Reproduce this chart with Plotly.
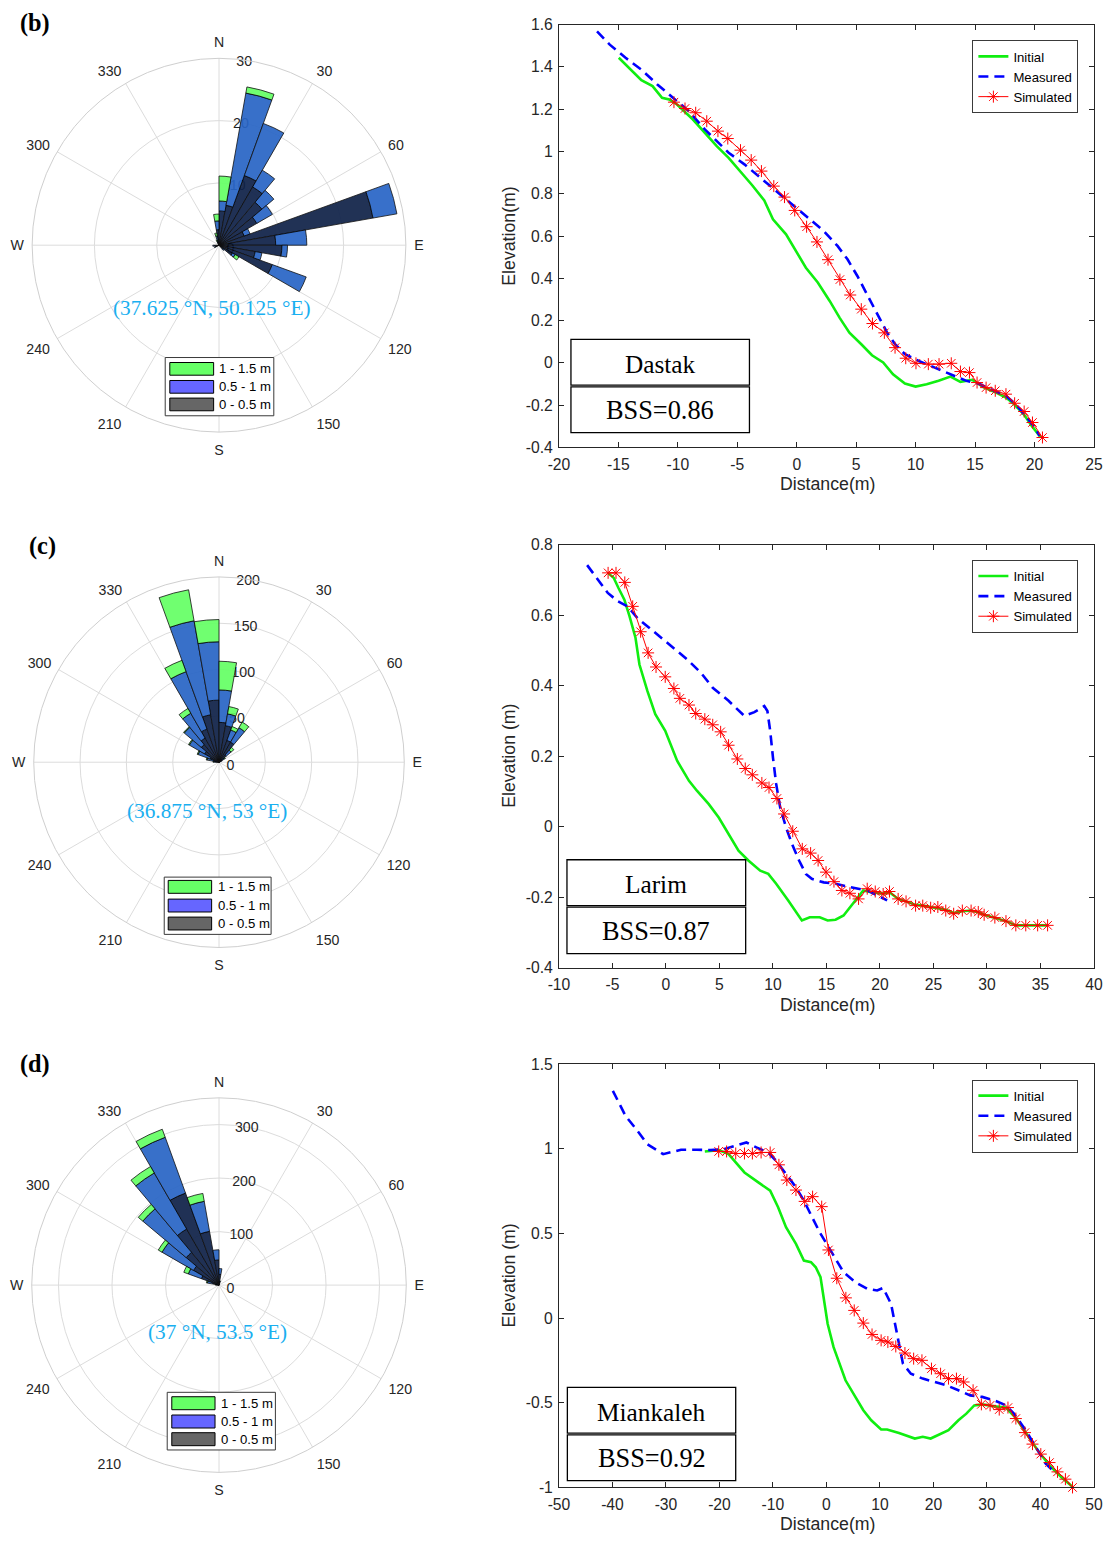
import plotly.graph_objects as go

W, H = 1113, 1544
# The page is shown with the browser's default 8 px body margin and the whole page
# is fitted back into W x H, so layout positions are pre-scaled to land where wanted.
PAGE_PAD = 8
SX = (W + 2 * PAGE_PAD) / W
SY = (H + 2 * PAGE_PAD) / H
FS = (SX + SY) / 2
SANS = "Liberation Sans, Arial, sans-serif"
SERIF = "Liberation Serif, Times New Roman, serif"
INK = "#262626"


def fx(px):
    return (px * SX - PAGE_PAD) / W


def fy(py):
    return 1 - (py * SY - PAGE_PAD) / H


def fs(size):
    return round(size * FS, 2)


# ---------------- wave roses: direction bins (deg, clockwise from N) ----------------
bins_labels = ["1 - 1.5 m", "0.5 - 1 m", "0 - 0.5 m"]

b_dir = [245, 265, 335, 345, 355, 5, 15, 25, 35, 45, 55, 65, 75, 85, 95, 105, 115, 125, 135]
b_low = [0.5, 0.7, 0.4, 0.8, 2.5, 5.5, 6.5, 11.9, 10.8, 9.0, 7.0, 4.3, 25.1, 9.1, 10.1, 5.9, 9.1, 2.5, 0.8]
b_mid = [0.3, 0.3, 0.3, 0.7, 1.4, 1.6, 18.3, 8.9, 3.1, 2.5, 2.9, 1.0, 3.9, 5.0, 0.9, 1.1, 5.8, 0.5, 0.3]
b_high = [0, 0, 0.2, 0.5, 1.1, 4.0, 1.0, 0, 0, 0, 0, 0, 0, 0, 0, 0, 0, 0.7, 0]

c_dir = [275, 285, 295, 305, 315, 325, 335, 345, 355, 5, 15, 25, 35, 45, 55, 65]
c_low = [3, 6, 10, 18, 25, 30, 38, 52, 67, 43, 40, 25, 25, 10, 4, 2]
c_mid = [3, 7, 14, 19, 24, 31, 66, 103, 63, 35, 13, 12, 18, 7, 3, 1]
c_high = [0.5, 1, 1, 1, 1, 6, 13, 34, 24, 31, 8, 4, 7, 4, 1, 0]

d_dir = [275, 285, 295, 305, 315, 325, 335, 345, 355, 5, 15]
d_low = [3, 12, 35, 55, 80, 121, 183, 102, 47, 20, 5]
d_mid = [3, 10, 26, 68, 106, 121, 111, 57, 19, 11, 3]
d_high = [1, 2, 9, 8, 11, 14, 16, 15, 0, 0, 0]

# ---------------- cross-shore profiles ----------------
# Dastak
b_init_x = [-14.97, -14.07, -13.07, -12.13, -11.33, -10.73, -10.07, -8.73, -7.73, -6.73,
            -5.73, -4.73, -3.73, -2.73, -2.0, -0.9, -0.07, 0.77, 1.77, 2.77,
            3.6, 4.43, 5.43, 6.33, 7.27, 8.1, 9.1, 10.0, 10.93, 11.93,
            12.93, 13.77, 14.77, 15.77, 16.77, 17.6, 18.27, 19.1, 19.77, 20.53]
b_init_y = [1.443, 1.395, 1.337, 1.309, 1.254, 1.246, 1.222, 1.151, 1.088, 1.025,
            0.970, 0.907, 0.839, 0.768, 0.679, 0.608, 0.529, 0.450, 0.380, 0.293,
            0.214, 0.143, 0.088, 0.036, 0.002, -0.054, -0.098, -0.112, -0.101, -0.085,
            -0.065, -0.090, -0.080, -0.117, -0.140, -0.164, -0.195, -0.243, -0.298, -0.353]
b_meas_x = [-16.8, -15.73, -14.4, -13.07, -11.73, -10.4, -9.07, -7.73, -6.57, -5.73,
            -4.4, -3.07, -1.73, -0.4, 0.93, 2.27, 3.43, 4.27, 5.1, 5.93,
            6.77, 7.6, 8.27, 9.1, 10.27, 11.27, 12.27, 13.27, 14.27, 15.27,
            16.27, 17.6, 18.43, 19.27, 19.93, 20.43]
b_meas_y = [1.568, 1.505, 1.443, 1.387, 1.317, 1.254, 1.19, 1.104, 1.041, 0.994,
            0.939, 0.876, 0.813, 0.75, 0.687, 0.624, 0.553, 0.49, 0.411, 0.324,
            0.23, 0.143, 0.088, 0.041, 0.009, -0.014, -0.038, -0.061, -0.085, -0.098,
            -0.124, -0.156, -0.195, -0.25, -0.298, -0.345]
b_sim_x = [-10.33, -9.4, -8.5, -7.57, -6.63, -5.8, -4.73, -3.83, -2.97, -1.93,
           -1.03, -0.17, 0.83, 1.7, 2.63, 3.63, 4.5, 5.43, 6.37, 7.37,
           8.27, 9.17, 10.03, 11.07, 11.97, 13.0, 13.77, 14.53, 15.17, 15.93,
           16.7, 17.6, 18.33, 19.13, 19.83, 20.67]
b_sim_y = [1.233, 1.203, 1.183, 1.143, 1.096, 1.061, 1.006, 0.959, 0.907, 0.836,
           0.784, 0.721, 0.644, 0.572, 0.488, 0.394, 0.321, 0.254, 0.186, 0.142,
           0.072, 0.022, -0.002, -0.006, -0.006, -0.002, -0.041, -0.046, -0.093, -0.117,
           -0.132, -0.148, -0.191, -0.230, -0.282, -0.353]

# Larim
c_init_x = [-5.44, -4.89, -4.44, -3.89, -3.41, -2.85, -2.48, -1.74, -1.0, -0.07,
            1.04, 2.15, 2.89, 4.0, 4.93, 5.85, 6.78, 7.7, 8.81, 9.56,
            10.3, 11.41, 12.7, 13.44, 14.37, 15.11, 15.85, 16.6, 17.33, 18.44,
            19.19, 20.3, 20.89, 21.7, 22.44, 23.33, 24.0, 24.74, 25.41, 26.15,
            26.89, 27.7, 28.52, 29.19, 29.74, 30.74, 31.78, 32.7, 33.63, 34.74, 35.67]
c_init_y = [0.72, 0.706, 0.677, 0.644, 0.597, 0.536, 0.46, 0.385, 0.319, 0.272,
            0.187, 0.13, 0.102, 0.064, 0.026, -0.021, -0.068, -0.096, -0.125, -0.134,
            -0.162, -0.209, -0.266, -0.257, -0.257, -0.266, -0.264, -0.252, -0.224, -0.181,
            -0.186, -0.19, -0.186, -0.205, -0.212, -0.222, -0.224, -0.228, -0.23, -0.236,
            -0.245, -0.24, -0.238, -0.243, -0.25, -0.258, -0.268, -0.28, -0.28, -0.28, -0.28]
c_meas_x = [-7.37, -6.37, -5.44, -4.52, -3.59, -2.67, -1.56, -0.44, 0.67, 1.96,
            3.26, 4.37, 5.85, 7.33, 8.26, 9.19, 9.48, 9.74, 10.0, 10.3,
            10.67, 11.22, 11.78, 12.44, 13.07, 13.63, 14.74, 15.85, 16.96, 17.89,
            18.81, 19.74, 20.67]
c_meas_y = [0.742, 0.701, 0.663, 0.64, 0.625, 0.592, 0.564, 0.536, 0.508, 0.475,
            0.437, 0.394, 0.357, 0.314, 0.325, 0.342, 0.328, 0.272, 0.196, 0.121,
            0.055, -0.002, -0.049, -0.096, -0.134, -0.148, -0.158, -0.162, -0.17, -0.176,
            -0.181, -0.195, -0.209]
c_sim_x = [-5.41, -4.67, -3.85, -3.11, -2.37, -1.67, -0.93, -0.07, 0.74, 1.30,
           2.15, 2.78, 3.63, 4.37, 5.11, 5.85, 6.67, 7.41, 8.07, 8.96,
           9.63, 10.37, 11.04, 11.85, 12.74, 13.52, 14.22, 14.96, 15.70, 16.44,
           17.19, 18.0, 18.81, 19.56, 20.30, 20.89, 21.70, 22.44, 23.33, 24.0,
           24.74, 25.41, 26.15, 26.89, 27.70, 28.52, 29.19, 29.74, 30.74, 31.78,
           32.70, 33.63, 34.74, 35.67]
c_sim_y = [0.72, 0.72, 0.693, 0.625, 0.553, 0.493, 0.453, 0.425, 0.392, 0.364,
           0.345, 0.321, 0.305, 0.289, 0.269, 0.231, 0.192, 0.165, 0.147, 0.124,
           0.111, 0.080, 0.036, -0.013, -0.063, -0.075, -0.096, -0.129, -0.156, -0.181,
           -0.189, -0.205, -0.176, -0.184, -0.191, -0.184, -0.205, -0.212, -0.224, -0.224,
           -0.23, -0.228, -0.238, -0.247, -0.238, -0.238, -0.242, -0.25, -0.258, -0.268,
           -0.28, -0.28, -0.28, -0.28]

# Miankaleh
d_init_x = [-22.74, -20.15, -18.30, -15.33, -12.74, -10.52, -9.04, -7.56, -5.70, -4.22,
            -2.89, -2.0, -1.11, -0.52, 0.22, 1.33, 2.44, 3.56, 5.04, 6.89,
            8.37, 10.22, 11.33, 13.56, 16.52, 18.0, 19.48, 20.96, 22.81, 24.67,
            26.15, 27.63, 29.11, 31.33, 33.56, 35.41, 37.26, 39.48, 41.70, 43.93, 46.0]
d_init_y = [0.985, 0.993, 0.969, 0.861, 0.802, 0.753, 0.655, 0.537, 0.439, 0.340,
            0.331, 0.301, 0.242, 0.124, -0.033, -0.171, -0.269, -0.367, -0.446, -0.544,
            -0.603, -0.658, -0.658, -0.678, -0.711, -0.701, -0.711, -0.691, -0.662, -0.603,
            -0.564, -0.515, -0.509, -0.52, -0.528, -0.59, -0.68, -0.78, -0.87, -0.94, -0.996]
d_meas_x = [-39.93, -39.04, -37.56, -35.33, -33.48, -30.52, -29.41, -27.19, -24.22, -21.63,
            -19.04, -16.81, -14.96, -13.11, -10.89, -9.41, -7.56, -5.70, -4.22, -2.74,
            -1.26, 0.22, 1.70, 3.19, 5.41, 7.63, 9.48, 10.59, 12.07, 12.81,
            13.56, 14.30, 15.78, 18.0, 20.22, 22.44, 24.67, 26.89, 29.11, 31.33,
            33.56, 35.04, 37.26, 39.11, 40.96, 42.81]
d_meas_y = [1.343, 1.284, 1.195, 1.107, 1.028, 0.969, 0.979, 0.995, 0.995, 0.993,
            0.999, 1.018, 1.038, 1.009, 0.979, 0.930, 0.851, 0.773, 0.694, 0.596,
            0.507, 0.429, 0.350, 0.272, 0.213, 0.173, 0.164, 0.179, 0.085, -0.033,
            -0.151, -0.269, -0.328, -0.357, -0.377, -0.397, -0.426, -0.456, -0.465, -0.485,
            -0.515, -0.564, -0.662, -0.760, -0.858, -0.917]
d_sim_x = [-20.15, -18.67, -16.96, -15.33, -13.85, -12.22, -10.52, -8.89, -7.41, -5.70,
           -4.07, -2.59, -0.89, 0.37, 1.93, 3.63, 5.19, 6.89, 8.52, 10.22,
           11.48, 12.96, 14.67, 16.30, 17.85, 19.63, 21.33, 22.81, 24.30, 25.63,
           27.41, 28.96, 30.59, 32.30, 33.93, 35.41, 37.11, 38.52, 40.07, 41.70,
           43.19, 44.67, 46.0]
d_sim_y = [0.985, 0.985, 0.973, 0.973, 0.973, 0.979, 0.979, 0.906, 0.816, 0.757,
           0.690, 0.718, 0.659, 0.403, 0.236, 0.120, 0.046, -0.029, -0.096, -0.131,
           -0.141, -0.167, -0.206, -0.239, -0.249, -0.298, -0.328, -0.357, -0.357, -0.377,
           -0.426, -0.509, -0.515, -0.540, -0.528, -0.593, -0.676, -0.744, -0.803, -0.853,
           -0.908, -0.951, -1.0]

site_names = ["Dastak", "Larim", "Miankaleh"]
bss_values = [0.86, 0.87, 0.92]
coords_text = ["(37.625 °N, 50.125 °E)", "(36.875 °N, 53 °E)", "(37 °N, 53.5 °E)"]
panel_tags = ["(b)", "(c)", "(d)"]

# ---------------- layout geometry (pixels on the page) ----------------
rose_geo = [  # centre x, centre y, radius
    (216.7, 244.3, 187.6),
    (216.7, 761.7, 186.0),
    (216.7, 1285.0, 188.0),
]
rose_rmax = [30, 200, 350]
rose_ticks = [[0, 10, 20, 30], [0, 50, 100, 150, 200], [0, 100, 200, 300]]
rose_data = [
    (b_dir, b_low, b_mid, b_high),
    (c_dir, c_low, c_mid, c_high),
    (d_dir, d_low, d_mid, d_high),
]
coord_pos = [(209.7, 306.7), (205.0, 810.7), (215.0, 1331.7)]
tag_pos = [(31.7, 21.7), (40.0, 545.0), (31.7, 1063.3)]
rose_leg = [  # box x0,x1,y0,y1, swatch x0,x1, row tops, row height, text x
    (162.7, 271.7, 356.7, 415.0, 167.3, 211.3, [361.7, 379.7, 397.3], 12.7, 215.0),
    (161.7, 269.0, 876.7, 934.0, 165.7, 209.3, [880.0, 898.7, 916.7], 12.9, 213.3),
    (164.7, 273.3, 1392.3, 1450.0, 169.3, 212.7, [1396.7, 1415.0, 1432.7], 13.0, 216.7),
]

plot_left, plot_right = 558.0, 1095.0
plot_tb = [(23.5, 446.7), (544.0, 967.3), (1064.0, 1487.5)]
x_ranges = [[-20, 25], [-10, 40], [-50, 50]]
x_ticks = [list(range(-20, 26, 5)), list(range(-10, 41, 5)), list(range(-50, 51, 10))]
y_ranges = [[-0.4, 1.6], [-0.4, 0.8], [-1, 1.5]]
y_ticks = [[-0.4, -0.2, 0, 0.2, 0.4, 0.6, 0.8, 1.0, 1.2, 1.4, 1.6],
           [-0.4, -0.2, 0, 0.2, 0.4, 0.6, 0.8],
           [-1, -0.5, 0, 0.5, 1, 1.5]]
y_titles = ["Elevation(m)", "Elevation (m)", "Elevation (m)"]
profiles = [
    (b_init_x, b_init_y, b_meas_x, b_meas_y, b_sim_x, b_sim_y),
    (c_init_x, c_init_y, c_meas_x, c_meas_y, c_sim_x, c_sim_y),
    (d_init_x, d_init_y, d_meas_x, d_meas_y, d_sim_x, d_sim_y),
]
box_geo = [  # x0, x1, y0, ymid, y1
    (570.0, 749.2, 338.5, 385.2, 431.8),
    (566.0, 745.4, 859.3, 906.0, 953.3),
    (566.4, 735.4, 1387.3, 1434.0, 1480.7),
]
leg_right = 1079.4
leg_top = [39.3, 559.3, 1079.3]

LOW_C, MID_C, HIGH_C = "#12244A", "#2966C6", "#66FF66"
LEG_COLORS = ["#66FF66", "#6666FF", "#666666"]
GREEN, BLUE, RED = "#10EE10", "#0000FF", "#FF0000"


def fmt(v):
    s = f"{v:g}"
    return "0" if s == "-0" else s


fig = go.Figure()
shapes = []
annotations = []
layout = {}

for i in range(3):
    key = "polar" if i == 0 else f"polar{i + 1}"
    cx, cy, rad = rose_geo[i]
    dirs, low, mid, high = rose_data[i]
    for vals, col in ((low, LOW_C), (mid, MID_C), (high, HIGH_C)):
        fig.add_trace(go.Barpolar(
            r=vals, theta=dirs, width=[10] * len(dirs), subplot=key,
            marker=dict(color=col, line=dict(color="black", width=0.8)),
            opacity=0.93, showlegend=False, hoverinfo="skip"))
    layout[key] = dict(
        domain=dict(x=[fx(cx - rad), fx(cx + rad)], y=[fy(cy + rad), fy(cy - rad)]),
        bgcolor="white", barmode="stack",
        angularaxis=dict(
            direction="clockwise", rotation=90,
            tickvals=list(range(0, 360, 30)),
            ticktext=["N", "30", "60", "E", "120", "150", "S", "210", "240", "W", "300", "330"],
            showgrid=True, gridcolor="#dcdcdc", gridwidth=1,
            showline=True, linecolor="#cfcfcf", linewidth=1,
            ticks="outside", ticklen=5, tickcolor="rgba(0,0,0,0)",
            tickfont=dict(family=SANS, size=fs(14), color=INK)),
        radialaxis=dict(
            range=[0, rose_rmax[i]], tickvals=rose_ticks[i],
            ticktext=[str(t) for t in rose_ticks[i]],
            angle=87, tickangle=87, showline=False, ticks="",
            showgrid=True, gridcolor="#dcdcdc", gridwidth=1,
            layer="below traces",
            tickfont=dict(family=SANS, size=fs(14), color=INK)),
    )

    # coordinates of the wave station
    px_, py_ = coord_pos[i]
    annotations.append(dict(
        x=fx(px_), y=fy(py_), xref="paper", yref="paper", showarrow=False,
        text=coords_text[i], font=dict(family=SERIF, size=fs(21), color="#1AAFF0"),
        xanchor="center", yanchor="middle"))
    tx, ty = tag_pos[i]
    annotations.append(dict(
        x=fx(tx), y=fy(ty), xref="paper", yref="paper", showarrow=False,
        text=f"<b>{panel_tags[i]}</b>", font=dict(family=SERIF, size=fs(24), color="black"),
        xanchor="center", yanchor="middle"))

    # wave-height legend of the rose
    bx0, bx1, by0, by1, sx0, sx1, rows, rh, txt_x = rose_leg[i]
    shapes.append(dict(type="rect", xref="paper", yref="paper",
                       x0=fx(bx0), x1=fx(bx1), y0=fy(by1), y1=fy(by0),
                       line=dict(color="#3a3a3a", width=1), fillcolor="white", layer="above"))
    for lab, col, top in zip(bins_labels, LEG_COLORS, rows):
        shapes.append(dict(type="rect", xref="paper", yref="paper",
                           x0=fx(sx0), x1=fx(sx1), y0=fy(top + rh), y1=fy(top),
                           line=dict(color="black", width=1), fillcolor=col, layer="above"))
        annotations.append(dict(
            x=fx(txt_x), y=fy(top + rh / 2), xref="paper", yref="paper", showarrow=False,
            text=lab, font=dict(family=SANS, size=fs(13), color="black"),
            xanchor="left", yanchor="middle"))

for i in range(3):
    xa = "x" if i == 0 else f"x{i + 1}"
    ya = "y" if i == 0 else f"y{i + 1}"
    lg = "legend" if i == 0 else f"legend{i + 1}"
    ix, iy, mx, my, sx, sy = profiles[i]
    fig.add_trace(go.Scatter(x=ix, y=iy, xaxis=xa, yaxis=ya, mode="lines", name="Initial",
                             line=dict(color=GREEN, width=2.6), legend=lg, hoverinfo="skip"))
    fig.add_trace(go.Scatter(x=mx, y=my, xaxis=xa, yaxis=ya, mode="lines", name="Measured",
                             line=dict(color=BLUE, width=2.6, dash="10px,6px"), legend=lg,
                             hoverinfo="skip"))
    fig.add_trace(go.Scatter(x=sx, y=sy, xaxis=xa, yaxis=ya, mode="lines+markers", name="Simulated",
                             line=dict(color=RED, width=1),
                             marker=dict(symbol="asterisk-open", size=10,
                                         line=dict(color=RED, width=1)),
                             cliponaxis=False, legend=lg, hoverinfo="skip"))

    top, bot = plot_tb[i]
    axis_common = dict(showline=True, mirror="ticks", linecolor=INK, linewidth=1,
                       ticks="inside", ticklen=5, tickcolor=INK, tickwidth=1,
                       showgrid=False, zeroline=False,
                       tickfont=dict(family=SANS, size=fs(15.5), color=INK))
    layout["xaxis" if i == 0 else f"xaxis{i + 1}"] = dict(
        domain=[fx(plot_left), fx(plot_right)], range=x_ranges[i], anchor=ya,
        tickvals=x_ticks[i], ticktext=[fmt(t) for t in x_ticks[i]], ticklabelstandoff=3,
        **axis_common)
    layout["yaxis" if i == 0 else f"yaxis{i + 1}"] = dict(
        domain=[fy(bot), fy(top)], range=y_ranges[i], anchor=xa,
        tickvals=y_ticks[i], ticktext=[fmt(t) for t in y_ticks[i]], ticklabelstandoff=2,
        **axis_common)
    layout[lg] = dict(
        x=fx(leg_right), xanchor="right", y=fy(leg_top[i]), yanchor="top",
        bgcolor="white", bordercolor="#3a3a3a", borderwidth=1,
        font=dict(family=SANS, size=fs(13), color="black"),
        tracegroupgap=0, itemwidth=30, traceorder="normal")

    # axis titles
    mid_y = (top + bot) / 2
    annotations.append(dict(
        x=fx(507.5), y=fy(mid_y), xref="paper", yref="paper", showarrow=False,
        text=y_titles[i], textangle=-90, font=dict(family=SANS, size=fs(17.5), color=INK),
        xanchor="center", yanchor="middle"))
    annotations.append(dict(
        x=fx((plot_left + plot_right) / 2 + 1), y=fy(bot + 37), xref="paper", yref="paper",
        showarrow=False, text="Distance(m)", font=dict(family=SANS, size=fs(17.5), color=INK),
        xanchor="center", yanchor="middle"))

    # site / skill score box
    x0, x1, y0, ym, y1 = box_geo[i]
    shapes.append(dict(type="rect", xref="paper", yref="paper",
                       x0=fx(x0), x1=fx(x1), y0=fy(ym - 0.8), y1=fy(y0),
                       line=dict(color="black", width=1.3), fillcolor="white", layer="above"))
    shapes.append(dict(type="rect", xref="paper", yref="paper",
                       x0=fx(x0), x1=fx(x1), y0=fy(y1), y1=fy(ym + 0.8),
                       line=dict(color="black", width=1.3), fillcolor="white", layer="above"))
    xc = (x0 + x1) / 2
    annotations.append(dict(
        x=fx(xc), y=fy((y0 + ym) / 2 + 1), xref="paper", yref="paper", showarrow=False,
        text=site_names[i], font=dict(family=SERIF, size=fs(25), color="black"),
        xanchor="center", yanchor="middle"))
    annotations.append(dict(
        x=fx(xc), y=fy((ym + y1) / 2 + 1.5), xref="paper", yref="paper", showarrow=False,
        text=f"BSS={bss_values[i]:.2f}", font=dict(family=SERIF, size=fs(26), color="black"),
        xanchor="center", yanchor="middle"))

fig.update_layout(
    width=W, height=H, margin=dict(l=0, r=0, t=0, b=0),
    paper_bgcolor="white", plot_bgcolor="white",
    shapes=shapes, annotations=annotations, **layout)

fig.write_html("out.html")
